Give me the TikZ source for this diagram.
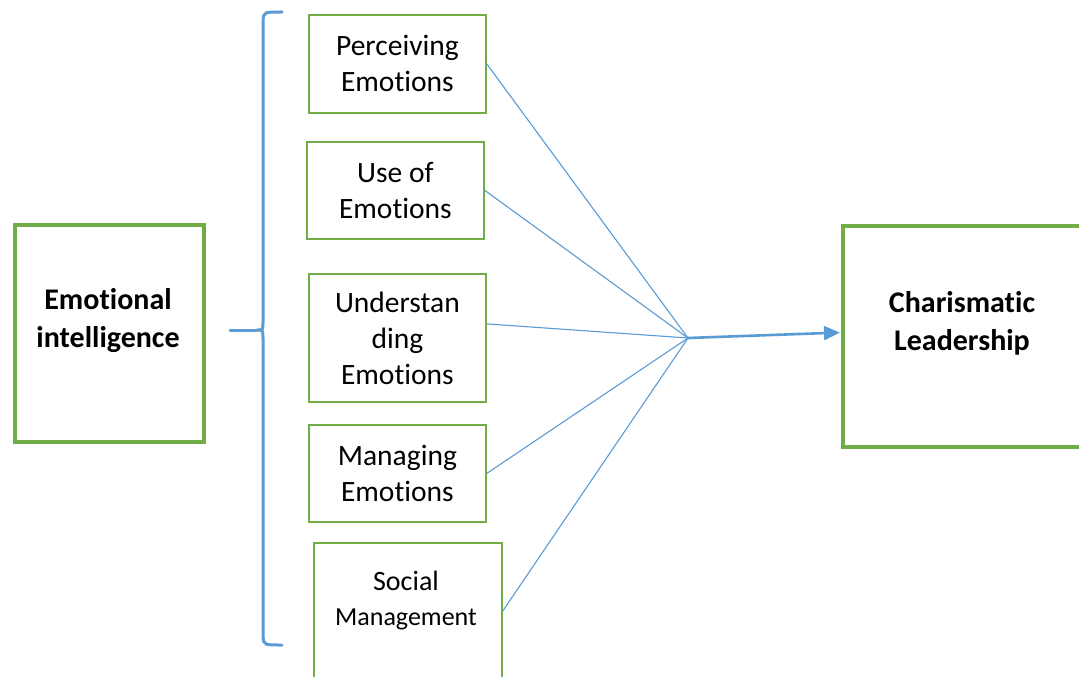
\documentclass[tikz,border=0pt]{standalone}
\usepackage{fontspec}
\setmainfont{Carlito}[Ligatures=NoCommon]
\usetikzlibrary{arrows.meta}
\definecolor{boxgreen}{HTML}{70AD47}
\definecolor{linkblue}{HTML}{5B9BD5}

\begin{document}
\begin{tikzpicture}[x=1pt,y=-1pt,
  bigbox/.style={draw=boxgreen, line width=4pt, anchor=north west, inner sep=0pt},
  smallbox/.style={draw=boxgreen, line width=1.8pt, anchor=north west, inner sep=0pt,
    align=center, font=\fontsize{29.5}{36}\selectfont},
  biglabel/.style={align=center, font=\bfseries\fontsize{30}{38}\selectfont},
  brace/.style={draw=linkblue, line width=3pt, line cap=round},
  link/.style={draw=linkblue, line width=1.1pt},
  mainarrow/.style={draw=linkblue, line width=2.6pt,
    -{Triangle[length=16pt,width=14pt]}, shorten >=1pt}]

\useasboundingbox (0,0) rectangle (1079,677);
\clip (0,0) rectangle (1079,677);
\fill[white] (0,0) rectangle (1079,677);

% outer concepts
\node[bigbox, minimum width=189pt, minimum height=217pt] (ei) at (13,223) {};
\node[biglabel] (eitext) at (108,321) {Emotional\\intelligence};
\node[bigbox, minimum width=260pt, minimum height=221pt] (cl) at (841,224) {};
\node[biglabel] (cltext) at (962,323) {Charismatic\\Leadership};

% the five components
\node[smallbox, minimum width=177pt, minimum height=98pt] (pe) at (308,14) {Perceiving\\Emotions};
\node[smallbox, minimum width=177pt, minimum height=97pt] (ue) at (306,141) {Use of\\Emotions};
\node[smallbox, minimum width=177pt, minimum height=128pt] (un) at (308,273) {Understan\\ding\\Emotions};
\node[smallbox, minimum width=177pt, minimum height=97pt] (me) at (308,424) {Managing\\Emotions};
\node[smallbox, minimum width=188pt, minimum height=160pt] (sm) at (313,542) {};
\node[align=center, font=\fontsize{26}{35}\selectfont] (smtext) at (406,601)
  {{\fontsize{28}{35}\selectfont Social}\\Management};

% brace grouping the components
\coordinate (stub) at (230,330);
\coordinate (notch) at (257,330);
\draw[brace] (282,12) .. controls (264,12) .. (263,20) -- (263,322)
  .. controls (263,330) .. (notch) .. controls (263,330) .. (263,338)
  -- (263,637) .. controls (264,645) .. (282,645);
\draw[brace] (stub) -- (notch);

% links converging on one point
\coordinate (hub) at (688,338);
\draw[link] (pe.east) -- (hub);
\draw[link] (ue.east) -- (hub);
\draw[link] ([yshift=14pt]un.east) -- (hub);
\draw[link] (me.east) -- (hub);
\draw[link] ([yshift=12pt]sm.east) -- (hub);
\draw[mainarrow] (hub) -- ([yshift=4pt]cl.west);
\end{tikzpicture}
\end{document}
